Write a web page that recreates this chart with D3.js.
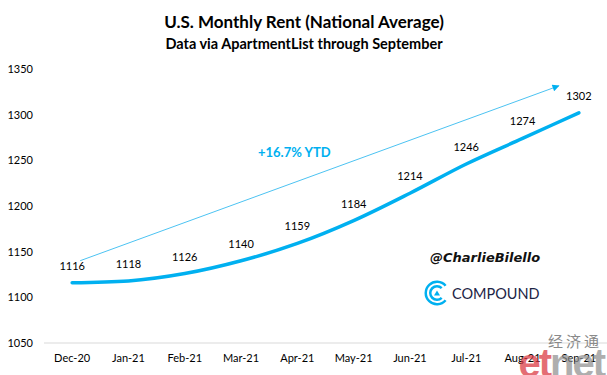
<!DOCTYPE html>
<html>
<head>
<meta charset="utf-8">
<script src="https://cdn.jsdelivr.net/npm/d3@7"></script>
<style>
  body { margin: 0; background: #fff; }
  svg { display: block; }
</style>
</head>
<body>
<div class="chart"></div>
<script>
var months = ['Dec-20', 'Jan-21', 'Feb-21', 'Mar-21', 'Apr-21', 'May-21', 'Jun-21', 'Jul-21', 'Aug-21', 'Sep-21'];
var rent = [1116, 1118, 1126, 1140, 1159, 1184, 1214, 1246, 1274, 1302];
var yTicks = [1050, 1100, 1150, 1200, 1250, 1300, 1350];
var titleText = 'U.S. Monthly Rent (National Average)';
var subtitleText = 'Data via ApartmentList through September';
var ytdText = '+16.7% YTD';

var lineColor = '#00b0f0',
	arrowColor = '#4cc3f2',
	textColor = '#000',
	gridColor = '#d9d9d9',
	fontFamily = 'Lato, "Open Sans", sans-serif';

var width = 607, height = 375;
var margin = {top: 69, left: 44, bottom: 32, right: 0};

var svg = d3.select('.chart').append('svg')
	.attr('width', width)
	.attr('height', height)
	.attr('font-family', fontFamily);

var x = d3.scaleBand().domain(months).range([margin.left, width - margin.right]);
var y = d3.scaleLinear().domain([1050, 1350]).range([height - margin.bottom, margin.top]);

// title
svg.append('text')
	.attr('x', 304).attr('y', 28)
	.attr('text-anchor', 'middle')
	.attr('font-size', '17px').attr('font-weight', 'bold')
	.text(titleText);
svg.append('text')
	.attr('x', 304).attr('y', 49)
	.attr('text-anchor', 'middle')
	.attr('font-size', '14.5px').attr('font-weight', 'bold')
	.text(subtitleText);

// y axis labels (no line)
svg.append('g').selectAll('text')
	.data(yTicks)
	.enter().append('text')
	.attr('x', 33)
	.attr('y', function(d) { return y(d); })
	.attr('dy', '0.35em')
	.attr('text-anchor', 'end')
	.attr('font-size', '11px')
	.attr('fill', textColor)
	.text(function(d) { return d; });

// base line
svg.append('line')
	.attr('x1', margin.left).attr('x2', width)
	.attr('y1', y(1050)).attr('y2', y(1050))
	.attr('stroke', gridColor).attr('stroke-width', 1);

// x axis labels
svg.append('g').selectAll('text')
	.data(months)
	.enter().append('text')
	.attr('x', function(d) { return x(d) + x.bandwidth() / 2; })
	.attr('y', y(1050) + 19)
	.attr('text-anchor', 'middle')
	.attr('font-size', '11px')
	.attr('fill', textColor)
	.text(function(d) { return d; });

// the arrow
svg.append('defs').append('marker')
	.attr('id', 'head')
	.attr('viewBox', '0 0 10 10')
	.attr('refX', 9).attr('refY', 5)
	.attr('markerWidth', 9).attr('markerHeight', 7)
	.attr('markerUnits', 'userSpaceOnUse')
	.attr('orient', 'auto')
	.append('path')
	.attr('d', 'M0,0L10,5L0,10Z')
	.attr('fill', lineColor);
var first = months[0], last = months[months.length - 1];
svg.append('line')
	.attr('x1', x(first) + x.bandwidth() / 2 + 8)
	.attr('y1', y(rent[0]) - 22)
	.attr('x2', x(last) + x.bandwidth() / 2 - 20)
	.attr('y2', y(rent[rent.length - 1]) - 27)
	.attr('stroke', arrowColor)
	.attr('stroke-width', 1)
	.attr('marker-end', 'url(#head)');

svg.append('text')
	.attr('x', 258).attr('y', 157)
	.attr('font-size', '13px').attr('font-weight', 'bold')
	.attr('fill', lineColor)
	.text(ytdText);

// rent line
var line = d3.line()
	.x(function(d, i) { return x(months[i]) + x.bandwidth() / 2; })
	.y(function(d) { return y(d); })
	.curve(d3.curveMonotoneX);
svg.append('path')
	.datum(rent)
	.attr('d', line)
	.attr('fill', 'none')
	.attr('stroke', lineColor)
	.attr('stroke-width', 3.5)
	.attr('stroke-linecap', 'round');

// value labels
svg.append('g').selectAll('text')
	.data(rent)
	.enter().append('text')
	.attr('x', function(d, i) { return x(months[i]) + x.bandwidth() / 2; })
	.attr('y', function(d) { return y(d) - 13; })
	.attr('text-anchor', 'middle')
	.attr('font-size', '11px')
	.attr('fill', textColor)
	.text(function(d) { return d; });

// signature
svg.append('text')
	.attr('x', 430).attr('y', 262)
	.attr('font-family', '"DejaVu Sans", sans-serif')
	.attr('font-size', '13px').attr('font-weight', 'bold').attr('font-style', 'italic')
	.attr('fill', '#111')
	.text('@CharlieBilello');

// compound logo
var logo = svg.append('g').attr('transform', 'translate(437,293)');
var open = Math.PI / 2;
logo.append('path')
	.attr('d', d3.arc()({innerRadius: 10, outerRadius: 12.5, startAngle: open + 0.7, endAngle: open + 2 * Math.PI - 0.7}))
	.attr('fill', lineColor);
logo.append('path')
	.attr('d', d3.arc()({innerRadius: 5.5, outerRadius: 8, startAngle: open + 0.8, endAngle: open + 2 * Math.PI - 0.8}))
	.attr('fill', lineColor);
logo.append('path')
	.attr('d', 'M0,-2.5L3,2.5L-3,2.5Z')
	.attr('fill', lineColor);
svg.append('text')
	.attr('x', 452).attr('y', 299)
	.attr('font-size', '14.5px')
	.attr('fill', '#1c2445')
	.text('COMPOUND');

// watermark
svg.append('text')
	.attr('x', 602).attr('y', 347)
	.attr('text-anchor', 'end')
	.attr('font-family', '"Noto Sans CJK SC", sans-serif')
	.attr('font-size', '15px')
	.attr('fill', '#8a8a8a')
	.attr('letter-spacing', '3px')
	.text('经济通');
var wm = svg.append('text')
	.attr('x', 604).attr('y', 377)
	.attr('text-anchor', 'end')
	.attr('font-family', '"Liberation Sans", sans-serif')
	.attr('font-size', '40px').attr('font-weight', 'bold')
	.attr('letter-spacing', '-2px')
	.attr('opacity', 0.7);
wm.append('tspan').attr('fill', '#d9303a').text('et');
wm.append('tspan').attr('fill', '#8c8c8c').text('net');
</script>
</body>
</html>
